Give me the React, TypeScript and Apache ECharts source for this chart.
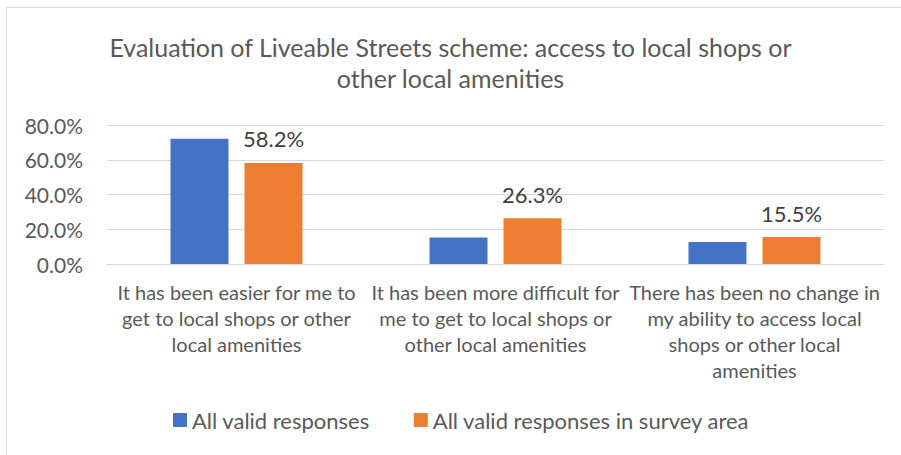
import React, { useEffect, useRef } from "react";
import * as echarts from "echarts";

const titleText = "Evaluation of Liveable Streets scheme: access to local shops or\nother local amenities";
const categories = [
  "It has been easier for me to\nget to local shops or other\nlocal amenities",
  "It has been more difficult for\nme to get to local shops or\nother local amenities",
  "There has been no change in\nmy ability to access local\nshops or other local\namenities",
];
const seriesNames = ["All valid responses", "All valid responses in survey area"];
const allValid = [72.1, 15.2, 12.7];
const surveyArea = [58.2, 26.3, 15.5];
const yTicks = [0, 20, 40, 60, 80];

const FONT = "Lato";

export default function App() {
  const ref = useRef<HTMLDivElement>(null);
  useEffect(() => {
    if (!ref.current) return;
    const chart = echarts.init(ref.current, null, { renderer: "svg" });
    chart.setOption({
      animation: false,
      backgroundColor: "#ffffff",
      textStyle: { fontFamily: FONT },
      title: {
        text: titleText,
        left: "center",
        top: 26,
        textStyle: { fontFamily: FONT, fontSize: 25, fontWeight: "normal", color: "#595959", lineHeight: 31 },
      },
      graphic: [
        {
          type: "rect",
          shape: { x: 6.5, y: 7.5, width: 1000, height: 1000 },
          style: { fill: "none", stroke: "#d9d9d9", lineWidth: 1 },
          silent: true,
        },
      ],
      legend: {
        bottom: 19,
        left: 168,
        itemWidth: 14,
        itemHeight: 14,
        itemGap: 44,
        icon: "rect",
        textStyle: { fontFamily: FONT, fontSize: 22, color: "#595959" },
        data: seriesNames,
      },
      grid: { left: 107, right: 17, top: 125, bottom: 191, containLabel: false },
      xAxis: {
        type: "category",
        data: categories,
        axisLine: { show: true, lineStyle: { color: "#d9d9d9", width: 1 } },
        axisTick: { show: false },
        axisLabel: {
          interval: 0,
          fontFamily: FONT,
          fontSize: 20,
          color: "#595959",
          lineHeight: 26,
          margin: 15,
          align: "center",
        },
      },
      yAxis: {
        type: "value",
        min: yTicks[0],
        max: yTicks[yTicks.length - 1],
        interval: 20,
        axisLine: { show: false },
        axisTick: { show: false },
        splitLine: { lineStyle: { color: "#d9d9d9", width: 1 } },
        axisLabel: {
          fontFamily: FONT,
          fontSize: 21,
          color: "#595959",
          margin: 24,
          formatter: (v: number) => v.toFixed(1) + "%",
        },
      },
      series: [
        {
          name: seriesNames[0],
          type: "bar",
          data: allValid,
          barWidth: 58,
          barGap: "27.6%",
          itemStyle: { color: "#4472c4" },
        },
        {
          name: seriesNames[1],
          type: "bar",
          data: surveyArea,
          barWidth: 58,
          itemStyle: { color: "#ed7d31" },
          label: {
            show: true,
            position: "top",
            distance: 13,
            fontFamily: FONT,
            fontSize: 22,
            color: "#404040",
            formatter: (p: any) => p.value.toFixed(1) + "%",
          },
        },
      ],
    });
    return () => chart.dispose();
  }, []);
  return (
    <div
      ref={ref}
      style={{ position: "fixed", left: 0, top: 0, width: 901, height: 455 }}
    />
  );
}
